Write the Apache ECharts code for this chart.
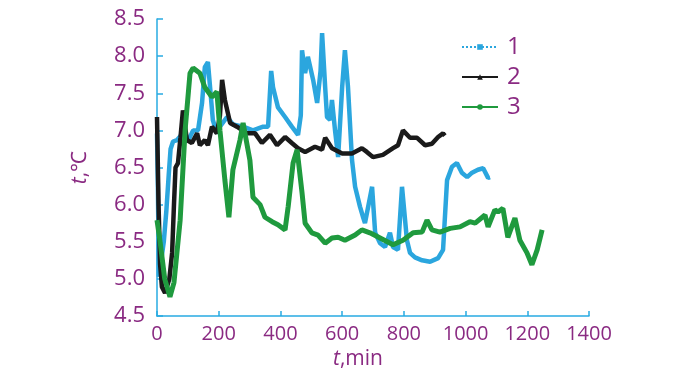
<!DOCTYPE html>
<html>
<head>
<meta charset="utf-8">
<script src="https://cdn.jsdelivr.net/npm/echarts@6/dist/echarts.min.js"></script>
<style>
  html, body { margin: 0; padding: 0; background: #fff; }
  #main { width: 685px; height: 375px; }
</style>
</head>
<body>
<div id="main"></div>
<script>
// 曲线 1 (blue) - time, min / temperature, °C
var t1 = [0, 3, 6, 12, 22, 30, 38, 44, 52, 65, 75, 84, 100, 117, 133, 146, 155, 165, 172, 181, 194, 204, 227, 246, 279, 311, 344, 360, 370, 376, 392, 415, 437, 457, 466, 470, 480, 489, 506, 519, 530, 535, 545, 551, 561, 567, 577, 587, 600, 609, 619, 632, 642, 658, 668, 674, 697, 707, 723, 739, 755, 765, 781, 794, 810, 820, 836, 859, 885, 911, 927, 940, 956, 972, 988, 1005, 1021, 1040, 1057, 1073, 1079];
var v1 = [6.96, 6.2, 5.03, 5.2, 5.5, 5.9, 6.4, 6.75, 6.85, 6.87, 6.92, 6.96, 6.85, 7.0, 7.0, 7.37, 7.85, 7.92, 7.58, 7.14, 6.96, 7.05, 7.18, 7.08, 7.05, 7.0, 7.05, 7.05, 7.8, 7.58, 7.31, 7.18, 7.05, 6.94, 7.2, 8.08, 7.77, 7.99, 7.68, 7.37, 7.8, 8.31, 7.58, 7.18, 7.14, 7.41, 7.0, 6.64, 7.58, 8.08, 7.58, 6.6, 6.24, 5.97, 5.83, 5.75, 6.24, 5.62, 5.48, 5.43, 5.62, 5.43, 5.39, 6.24, 5.52, 5.35, 5.29, 5.25, 5.23, 5.28, 5.39, 6.33, 6.51, 6.56, 6.43, 6.37, 6.43, 6.47, 6.49, 6.36, 6.37];

// 曲线 2 (black)
var t2 = [0, 5, 10, 16, 26, 40, 49, 55, 60, 68, 76, 84, 97, 113, 130, 139, 155, 165, 178, 194, 204, 211, 220, 237, 259, 292, 318, 340, 366, 389, 415, 437, 457, 480, 512, 535, 545, 567, 600, 632, 664, 680, 700, 732, 765, 781, 797, 820, 843, 869, 891, 911, 927, 933];
var v2 = [7.18, 6.0, 5.2, 4.89, 4.81, 5.0, 5.35, 6.0, 6.5, 6.56, 6.9, 7.27, 6.87, 6.83, 6.96, 6.8, 6.87, 6.8, 7.05, 6.96, 7.2, 7.68, 7.41, 7.1, 7.05, 6.96, 6.96, 6.83, 6.94, 6.8, 6.91, 6.83, 6.76, 6.71, 6.78, 6.74, 6.9, 6.76, 6.69, 6.69, 6.76, 6.71, 6.64, 6.67, 6.76, 6.8, 7.0, 6.9, 6.9, 6.8, 6.82, 6.91, 6.96, 6.93];

// 曲线 3 (green)
var t3 = [0, 10, 25, 42, 55, 75, 91, 107, 117, 139, 155, 178, 194, 204, 220, 233, 246, 269, 279, 301, 311, 334, 350, 373, 392, 415, 425, 441, 454, 470, 480, 502, 522, 545, 567, 587, 609, 642, 664, 690, 723, 765, 797, 830, 859, 875, 891, 917, 950, 982, 1014, 1031, 1063, 1073, 1095, 1105, 1121, 1137, 1160, 1176, 1199, 1215, 1232, 1248];
var v3 = [5.79, 5.5, 5.0, 4.76, 4.95, 5.79, 7.0, 7.77, 7.84, 7.77, 7.58, 7.45, 7.52, 7.0, 6.33, 5.83, 6.47, 6.87, 7.1, 6.6, 6.1, 6.0, 5.83, 5.77, 5.73, 5.66, 5.97, 6.56, 6.74, 6.16, 5.75, 5.62, 5.59, 5.48, 5.55, 5.56, 5.52, 5.59, 5.66, 5.62, 5.55, 5.46, 5.52, 5.62, 5.63, 5.79, 5.66, 5.63, 5.68, 5.7, 5.77, 5.75, 5.86, 5.7, 5.93, 5.9, 5.95, 5.56, 5.82, 5.52, 5.35, 5.19, 5.39, 5.66];

var names = ['1', '2', '3'];

function pairs(t, v) {
  return t.map(function (x, i) { return [x, v[i]]; });
}

var purple = '#8a2a82';
var axisBlue = '#29abe2';
var font = 'Open Sans';

var myChart = echarts.init(document.getElementById('main'));
myChart.setOption({
  animation: false,
  grid: { left: 157, right: 96, top: 19, bottom: 59 },
  legend: {
    orient: 'vertical',
    left: 456,
    top: 30,
    itemWidth: 36,
    itemHeight: 7,
    itemGap: 6,
    lineStyle: { width: 2 },
    textStyle: { color: purple, fontSize: 24, fontFamily: font, padding: [0, 0, 0, 4] },
    data: [
      { name: '1', lineStyle: { type: 'dotted', width: 2 } },
      { name: '2' },
      { name: '3' }
    ]
  },
  xAxis: {
    type: 'value',
    min: 0,
    max: 1400,
    interval: 200,
    name: '{i|t},min',
    nameLocation: 'middle',
    nameGap: 30,
    nameTextStyle: {
      color: purple, fontSize: 21, fontFamily: font, padding: [0, 30, 0, 0],
      rich: { i: { fontStyle: 'italic', fontSize: 21, color: purple, fontFamily: font } }
    },
    axisLine: { lineStyle: { color: axisBlue, width: 1.5 } },
    axisTick: { inside: true, length: 5, lineStyle: { color: axisBlue, width: 1.5 } },
    axisLabel: {
      color: purple, fontSize: 20, fontFamily: font, margin: 8,
      formatter: function (v) { return String(v); }
    },
    splitLine: { show: false }
  },
  yAxis: {
    type: 'value',
    min: 4.5,
    max: 8.5,
    interval: 0.5,
    name: '{i|t},℃',
    nameLocation: 'middle',
    nameGap: 66,
    nameTextStyle: {
      color: purple, fontSize: 21, fontFamily: font,
      rich: { i: { fontStyle: 'italic', fontSize: 21, color: purple, fontFamily: font } }
    },
    axisLine: { show: true, lineStyle: { color: axisBlue, width: 1.5 } },
    axisTick: { show: true, inside: true, length: 6, lineStyle: { color: axisBlue, width: 1.5 } },
    axisLabel: {
      color: purple, fontSize: 22, fontFamily: font, margin: 12,
      formatter: function (v) { return v.toFixed(1); }
    },
    splitLine: { show: false }
  },
  series: [
    {
      name: names[0], type: 'line', data: pairs(t1, v1),
      symbol: 'rect', symbolSize: 6, showSymbol: false,
      itemStyle: { color: '#2ba6de' },
      lineStyle: { color: '#2ba6de', width: 4.5 }
    },
    {
      name: names[1], type: 'line', data: pairs(t2, v2),
      symbol: 'triangle', symbolSize: 6, showSymbol: false,
      itemStyle: { color: '#1a1a1a' },
      lineStyle: { color: '#1a1a1a', width: 4.5 }
    },
    {
      name: names[2], type: 'line', data: pairs(t3, v3),
      symbol: 'circle', symbolSize: 5, showSymbol: false,
      itemStyle: { color: '#1f9a3e' },
      lineStyle: { color: '#1f9a3e', width: 5 }
    }
  ]
});
</script>
</body>
</html>
